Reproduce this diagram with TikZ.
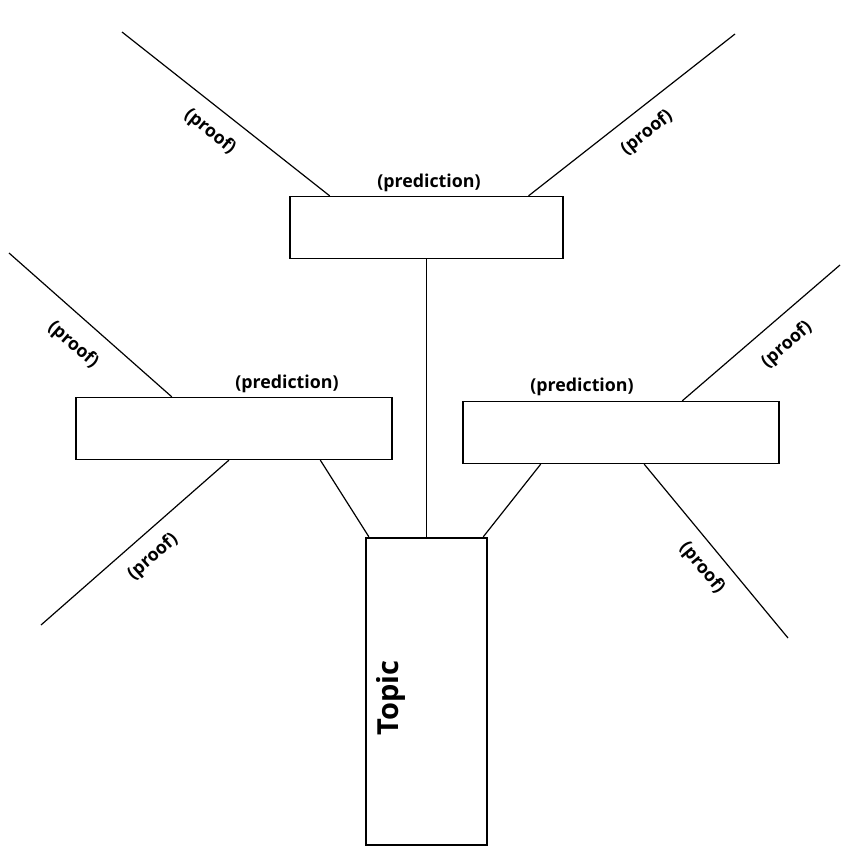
\documentclass[tikz,border=0pt]{standalone}
\usepackage{fontspec}
\setmainfont{Open Sans}
\usetikzlibrary{calc}
\begin{document}
\begin{tikzpicture}[x=1pt,y=-1pt,
  predbox/.style={draw,line width=1.3pt,minimum height=62pt,inner sep=0pt},
  topicbox/.style={draw,line width=2.4pt,minimum width=121pt,minimum height=307pt,inner sep=0pt},
  ln/.style={line width=1.2pt},
  lbl/.style={font=\fontsize{17.8}{20}\selectfont\bfseries,inner sep=0pt},
  toplbl/.style={font=\fontsize{29}{32}\selectfont\bfseries,inner sep=0pt,rotate=90}]
\useasboundingbox (0,0) rectangle (841,848);
% boxes
\node[predbox,minimum width=273pt] (top) at (426.5,227.5) {};
\node[predbox,minimum width=316pt] (left) at (234,428.5) {};
\node[predbox,minimum width=316pt] (right) at (621,432.5) {};
\node[topicbox] (topic) at (426.5,691.5) {};
% labels
\node[lbl] (ptop) at (429,183) {(prediction)};
\node[lbl] (pleft) at (287,384) {(prediction)};
\node[lbl] (pright) at (582,387) {(prediction)};
\node[toplbl] (tt) at (391,698) {Topic};
% free ends
\coordinate (a1) at (122,32);
\coordinate (a2) at (735,34);
\coordinate (a3) at (9,253);
\coordinate (a4) at (840,265);
\coordinate (a5) at (41,625);
\coordinate (a6) at (788,638);
% proof lines
\draw[ln] ($(top.north west)!0.147!(top.north east)$) -- (a1);
\draw[ln] ($(top.north west)!0.872!(top.north east)$) -- (a2);
\draw[ln] ($(left.north west)!0.304!(left.north east)$) -- (a3);
\draw[ln] ($(right.north west)!0.693!(right.north east)$) -- (a4);
\draw[ln] ($(left.south west)!0.484!(left.south east)$) -- (a5);
\draw[ln] ($(right.south west)!0.573!(right.south east)$) -- (a6);
% connectors to topic
\draw[ln] (top.south) -- (topic.north);
\draw[ln] ($(left.south west)!0.772!(left.south east)$) -- ($(topic.north west)!0.033!(topic.north east)$);
\draw[ln] ($(right.south west)!0.247!(right.south east)$) -- ($(topic.north west)!0.96!(topic.north east)$);
% proof labels
\node[lbl,rotate=-38.8] (q1) at (210,132) {(proof)};
\node[lbl,rotate=38.4] (q2) at (647,133) {(proof)};
\node[lbl,rotate=-41] (q3) at (73,345) {(proof)};
\node[lbl,rotate=41] (q4) at (787,345) {(proof)};
\node[lbl,rotate=41.6] (q5) at (153,557) {(proof)};
\node[lbl,rotate=-50.5] (q6) at (702,568) {(proof)};
\end{tikzpicture}
\end{document}
